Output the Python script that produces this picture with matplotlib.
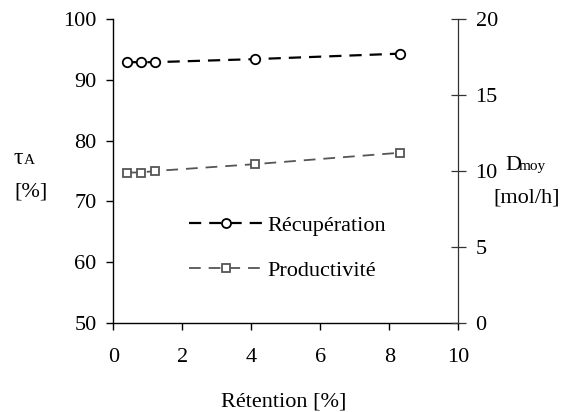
import matplotlib
matplotlib.use("Agg")
import matplotlib.pyplot as plt
from matplotlib.lines import Line2D

retention = [0.4, 0.8, 1.2, 4.1, 8.3]
recuperation = [92.9, 92.9, 92.9, 93.4, 94.3]
productivite = [9.9, 9.9, 10.0, 10.45, 11.2]
xticks = [0, 2, 4, 6, 8, 10]
yticks_left = [50, 60, 70, 80, 90, 100]
yticks_right = [0, 5, 10, 15, 20]

plt.rcParams['font.family'] = ['Liberation Serif', 'DejaVu Serif']
fs = 16

fig = plt.figure(figsize=(5.63, 4.12), dpi=100)
W, H = 563, 412
L, R, T, B = 113.3, 458.3, 19, 323
ax = fig.add_axes([L / W, 1 - B / H, (R - L) / W, (B - T) / H])
ax2 = ax.twinx()

black = '#000000'
grey = '#555555'
d1 = (5.5, 3.6)
d2 = (6.5, 4.4)
ax.plot(retention, recuperation, color=black, lw=1.6, dashes=d1,
        marker='o', ms=6.8, mfc='white', mec=black, mew=1.3)
ax2.plot(retention, productivite, color=grey, lw=1.3, dashes=d2,
         marker='s', ms=6, mfc='white', mec=grey, mew=1.3)

ax.set_xlim(0, 10)
ax.set_ylim(50, 100)
ax2.set_ylim(0, 20)
ax.set_xticks(xticks)
ax.set_yticks(yticks_left)
ax2.set_yticks(yticks_right)

for a in (ax, ax2):
    a.spines['top'].set_visible(False)
ax.spines['right'].set_visible(False)
ax2.spines['left'].set_visible(False)
ax2.spines['bottom'].set_visible(False)
for s in ('left', 'bottom'):
    ax.spines[s].set_linewidth(1.0)
ax2.spines['right'].set_linewidth(0.9)
ax2.spines['right'].set_color('#333333')

ax.tick_params(axis='x', direction='out', length=5, width=1, labelsize=fs, pad=13)
ax.tick_params(axis='y', direction='out', length=5, width=1, labelsize=fs, pad=7)
ax2.tick_params(axis='y', direction='inout', length=10.8, width=0.9,
                color='#333333', labelsize=fs, pad=7)

# legend handles
h1 = Line2D([], [], color=black, lw=1.6, dashes=d1, marker='o', ms=6.5,
            mfc='white', mec=black, mew=1.3)
h2 = Line2D([], [], color=grey, lw=1.3, dashes=d2, marker='s', ms=6,
            mfc='white', mec=grey, mew=1.3)
ax.legend([h1, h2], ['Récupération', 'Productivité'], loc='upper left',
          bbox_to_anchor=(0.162, 0.419), frameon=False, fontsize=fs,
          handlelength=3.3, handletextpad=0.2, labelspacing=1.1, numpoints=1)

# axis labels
def px(x, y):
    return x / W, 1 - y / H

fig.text(*px(14, 164), 'τ', fontsize=fs + 1, ha='left', va='baseline')
fig.text(*px(24, 164), 'A', fontsize=11, ha='left', va='baseline')
fig.text(*px(30.5, 197), '[%]', fontsize=fs, ha='center', va='baseline')
fig.text(*px(505, 170), 'D', fontsize=fs, ha='left', va='baseline')
fig.text(*px(519, 170), 'moy', fontsize=11, ha='left', va='baseline')
fig.text(*px(527, 203), '[mol/h]', fontsize=fs, ha='center', va='baseline')
fig.text(*px(283.5, 407), 'Rétention [%]', fontsize=fs, ha='center', va='baseline')

fig.savefig('out.png', dpi=100)
